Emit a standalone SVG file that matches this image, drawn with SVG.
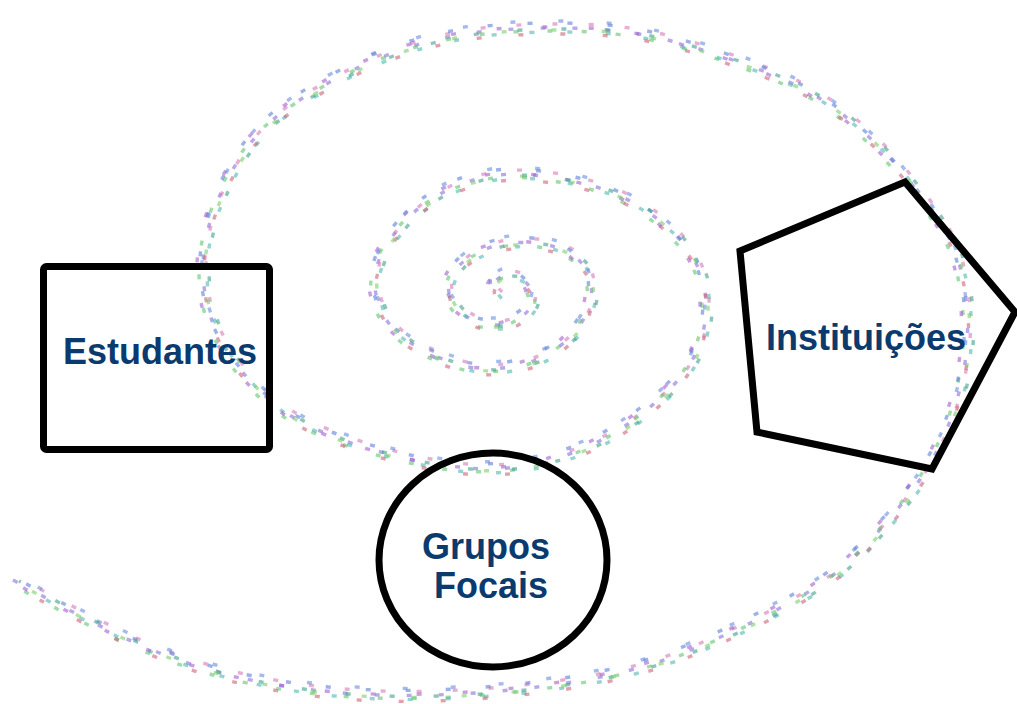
<svg xmlns="http://www.w3.org/2000/svg" width="1017" height="704" viewBox="0 0 1017 704">
  <defs>
    <!-- spiral centreline, from the open outer end inward to the core -->
    <path id="spiral" d="M13,580 Q77,615 118.5,635 Q160,655 205,668.5 Q250,682 308.5,689.5 Q367,697 433.5,695 Q500,693 566.5,683 Q633,673 683,653 Q733,633 783,606.5 Q833,580 861.5,550 Q890,520 912.5,490 Q935,460 948.5,425 Q962,390 966,355 Q970,320 964,285 Q958,250 941.5,225 Q925,200 902.5,172.5 Q880,145 846.5,117.5 Q813,90 763,71 Q713,52 671.5,41 Q630,30 585,28.5 Q540,27 500,30 Q460,33 423.5,43 Q387,53 350,71.5 Q313,90 286.5,109 Q260,128 242.5,154 Q225,180 214,210 Q203,240 203,268.5 Q203,297 213,323.5 Q223,350 248,378.5 Q273,407 301.5,422 Q330,437 365,447.5 Q400,458 433.5,464 Q467,470 500,468.5 Q533,467 566.5,455 Q600,443 626.5,425 Q653,407 675,383.5 Q697,360 703.5,330 Q710,300 700,272.5 Q690,245 660,221 Q630,197 596.5,187 Q563,177 526.5,174.5 Q490,172 456.5,186 Q423,200 401.5,225 Q380,250 376,270 Q372,290 381,310 Q390,330 410,342.5 Q430,355 455,363.5 Q480,372 510,367 Q540,362 560,346 Q580,330 587.5,311 Q595,292 588.5,275 Q582,258 563.5,250 Q545,242 520,242.5 Q495,243 475,254 Q455,265 450,280 Q445,295 457.5,308.5 Q470,322 487.5,324.5 Q505,327 520,317.5 Q535,308 532.5,295 Q530,282 517.5,277 Q505,272 496.5,280 Q488,288 502,298"/>
    <filter id="soft" x="-5%" y="-5%" width="110%" height="110%">
      <feGaussianBlur stdDeviation="0.5"/>
    </filter>
  </defs>
  <style>
    .dots { fill: none; stroke-width: 3.4; stroke-linecap: butt; opacity: 0.6; }
    .shape { fill: none; stroke: #000; stroke-width: 7; }
    .label { font-family: "Liberation Sans", Arial, sans-serif; font-weight: bold; font-size: 36px; fill: #0b3b6e; text-anchor: middle; }
  </style>

  <rect width="1017" height="704" fill="#fff"/>

  <!-- speckled spiral: several offset, dashed copies of one centreline -->
  <g id="spiral-dots" filter="url(#soft)">
    <use href="#spiral" class="dots" stroke="#8a6fd8" stroke-dasharray="5 27" stroke-dashoffset="0"/>
    <use href="#spiral" class="dots" stroke="#d879b8" stroke-dasharray="5 31" stroke-dashoffset="9" transform="translate(3,-4)"/>
    <use href="#spiral" class="dots" stroke="#62c46e" stroke-dasharray="5 29" stroke-dashoffset="17" transform="translate(-4,3)"/>
    <use href="#spiral" class="dots" stroke="#4fb8b0" stroke-dasharray="5 33" stroke-dashoffset="5" transform="translate(4,4)"/>
    <use href="#spiral" class="dots" stroke="#5b7fd6" stroke-dasharray="5 35" stroke-dashoffset="22" transform="translate(-3,-5)"/>
    <use href="#spiral" class="dots" stroke="#cc6677" stroke-dasharray="5 37" stroke-dashoffset="13" transform="translate(1,6)"/>
    <use href="#spiral" class="dots" stroke="#a45fcf" stroke-dasharray="5 41" stroke-dashoffset="28" transform="translate(-6,-1)"/>
    <use href="#spiral" class="dots" stroke="#3fa08a" stroke-dasharray="5 39" stroke-dashoffset="3" transform="translate(6,1)"/>
    <use href="#spiral" class="dots" stroke="#6a8ee0" stroke-dasharray="5 43" stroke-dashoffset="19" transform="translate(-1,-7)"/>
    <use href="#spiral" class="dots" stroke="#7ccf6a" stroke-dasharray="5 45" stroke-dashoffset="31" transform="translate(2,2)"/>
  </g>

  <g id="connectors"></g>

  <g id="node-estudantes">
    <rect class="shape" x="43.5" y="266.5" width="226" height="183" rx="3" stroke-linejoin="round"/>
    <text class="label" x="160" y="364">Estudantes</text>
  </g>

  <g id="node-instituicoes">
    <polygon class="shape" points="905,182 1015,312 932,469 757,432 740,251" stroke-linejoin="miter"/>
    <text class="label" x="866" y="350">Instituições</text>
  </g>

  <g id="node-grupos-focais">
    <ellipse class="shape" cx="493" cy="560" rx="114" ry="107"/>
    <text class="label" x="486" y="559" font-size="39">Grupos</text>
    <text class="label" x="491" y="598" font-size="39">Focais</text>
  </g>
</svg>
